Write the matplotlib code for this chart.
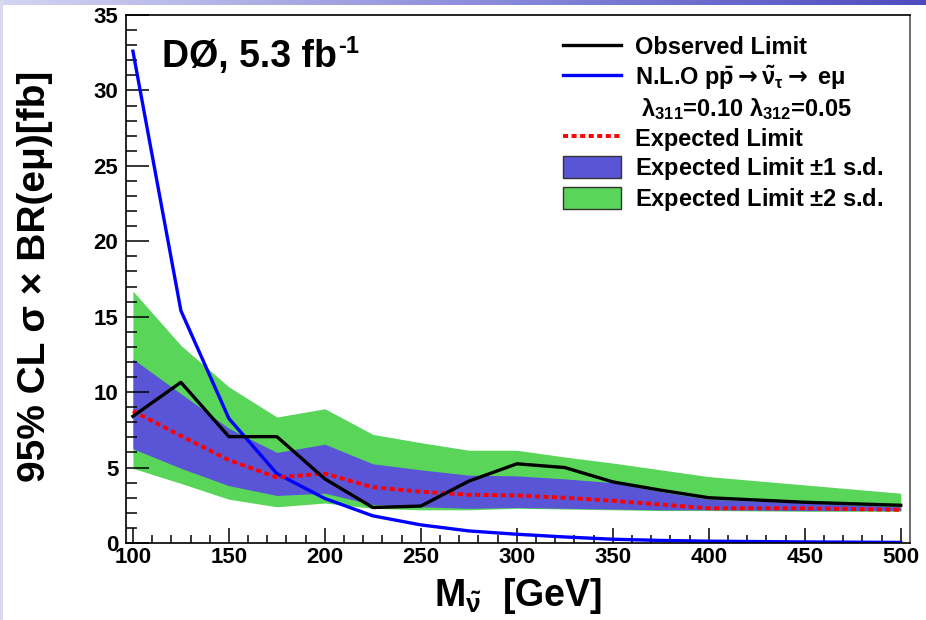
import numpy as np
import matplotlib
matplotlib.use('Agg')
import matplotlib.pyplot as plt
from matplotlib.lines import Line2D
from matplotlib.patches import Patch

# sneutrino mass points [GeV]
masses = [100, 125, 150, 175, 200, 225, 250, 275, 300, 325, 350, 375, 400, 450, 500]

observed = [8.4, 10.65, 7.05, 7.05, 4.25, 2.35, 2.45, 4.1, 5.25, 5.0, 4.05, 3.5, 3.0, 2.7, 2.5]
expected = [8.75, 7.1, 5.5, 4.35, 4.6, 3.7, 3.4, 3.2, 3.15, 3.0, 2.8, 2.55, 2.3, 2.3, 2.2]
nlo_xsec = [32.6, 15.4, 8.25, 4.6, 2.95, 1.8, 1.2, 0.8, 0.58, 0.4, 0.25, 0.17, 0.12, 0.07, 0.04]

sd1_low = [6.25, 4.95, 3.8, 3.15, 3.3, 2.55, 2.4, 2.3, 2.35, 2.3, 2.25, 2.2, 2.2, 2.15, 2.15]
sd1_high = [12.2, 9.9, 7.6, 6.0, 6.55, 5.25, 4.85, 4.5, 4.45, 4.25, 4.0, 3.4, 2.9, 2.65, 2.4]
sd2_low = [4.95, 3.95, 2.9, 2.4, 2.65, 2.3, 2.2, 2.2, 2.3, 2.25, 2.2, 2.15, 2.15, 2.1, 2.1]
sd2_high = [16.7, 13.1, 10.35, 8.35, 8.9, 7.2, 6.65, 6.15, 6.15, 5.7, 5.3, 4.85, 4.4, 3.85, 3.3]

green = '#59d659'
violet = '#5a55d6'

plt.rcParams['font.family'] = ['Liberation Sans', 'DejaVu Sans']
plt.rcParams['font.weight'] = 'bold'
plt.rcParams['mathtext.fontset'] = 'custom'
plt.rcParams['mathtext.rm'] = 'Liberation Sans:bold'
plt.rcParams['mathtext.it'] = 'Liberation Sans:bold'
plt.rcParams['mathtext.bf'] = 'Liberation Sans:bold'
plt.rcParams['mathtext.sf'] = 'DejaVu Sans'

fig = plt.figure(figsize=(9.26, 6.2), dpi=100)

# slide decoration: gradient strip on top and thin band on the left
strip = fig.add_axes([0, 1 - 5 / 620, 1, 5 / 620])
grad = np.linspace(0, 1, 256)[None, :]
strip.imshow(grad, aspect='auto', cmap=matplotlib.colors.LinearSegmentedColormap.from_list(
    'slide', ['#d4d4f2', '#8f8fdc', '#4c4cc0']))
strip.axis('off')
side = fig.add_axes([0, 0, 3 / 926, 1])
side.set_facecolor('#d8d8f0')
side.set_xticks([])
side.set_yticks([])
for s in side.spines.values():
    s.set_visible(False)

ax = fig.add_axes([126 / 926, 77 / 620, 784 / 926, 528 / 620])

ax.fill_between(masses, sd2_low, sd2_high, color=green, lw=0)
ax.fill_between(masses, sd1_low, sd1_high, color=violet, lw=0)
ax.plot(masses, nlo_xsec, color='#0000ff', lw=2.4)
ax.plot(masses, expected, color='#ff0000', lw=2.8, linestyle=(0, (1.3, 0.9)))
ax.plot(masses, observed, color='black', lw=2.4)

ax.set_xlim(96.4, 504.8)
ax.set_ylim(0, 35)
ax.set_xticks(np.arange(100, 501, 50))
ax.set_xticks(np.arange(100, 501, 10), minor=True)
ax.set_yticks(np.arange(0, 36, 5))
ax.set_yticks(np.arange(0, 36, 1), minor=True)

ax.tick_params(axis='both', which='both', direction='in', top=False, right=False, width=1.1)
ax.tick_params(axis='x', which='major', length=10.8, pad=3.0)
ax.tick_params(axis='x', which='minor', length=5.8)
ax.tick_params(axis='y', which='major', length=16.5, pad=5.5)
ax.tick_params(axis='y', which='minor', length=8)
for lab in ax.get_xticklabels() + ax.get_yticklabels():
    lab.set_fontsize(16)
    lab.set_fontweight('bold')
for s in ax.spines.values():
    s.set_linewidth(1.2)
ax.spines['right'].set_color('#555555')

ax.set_ylabel('95% CL σ × BR(eμ)[fb]', fontsize=28, fontweight='bold')
ax.set_xlabel(r'M$_{\tilde{\nu}}$  [GeV]', fontsize=27, fontweight='bold')
ax.yaxis.set_label_coords(-0.093, 0.505)
ax.xaxis.set_label_coords(0.5, -0.062)

title = ax.text(0.046, 0.955, 'DØ, 5.3 fb', transform=ax.transAxes,
                fontsize=27, fontweight='bold', va='top', ha='left')
ax.annotate('-1', xy=(1, 1), xycoords=title, xytext=(0.5, 3), textcoords='offset points',
            fontsize=17, fontweight='bold', va='top', ha='left')

handles = [
    Line2D([], [], color='black', lw=2.4),
    Line2D([], [], color='#0000ff', lw=2.4),
    Line2D([], [], color='none'),
    Line2D([], [], color='#ff0000', lw=2.8, linestyle=(0, (1.3, 0.9))),
    Patch(facecolor=violet, edgecolor='#333333', lw=1.0),
    Patch(facecolor=green, edgecolor='#333333', lw=1.0),
]
labels = [
    'Observed Limit',
    r'N.L.O p$\bar{\mathrm{p}}\mathsf{\rightarrow}\tilde{\nu}_{\tau}\mathsf{\rightarrow}$ e$\mu$',
    r' $\lambda_{311}$=0.10 $\lambda_{312}$=0.05',
    'Expected Limit',
    r'Expected Limit $\pm$1 s.d.',
    r'Expected Limit $\pm$2 s.d.',
]
leg = ax.legend(handles, labels, loc='upper left', bbox_to_anchor=(0.557, 0.962),
                frameon=False, fontsize=17, handlelength=2.45, handleheight=1.1,
                handletextpad=0.6, labelspacing=0.18, borderpad=0, borderaxespad=0)
for t in leg.get_texts():
    t.set_fontweight('bold')

fig.savefig('out.png', dpi=100)
